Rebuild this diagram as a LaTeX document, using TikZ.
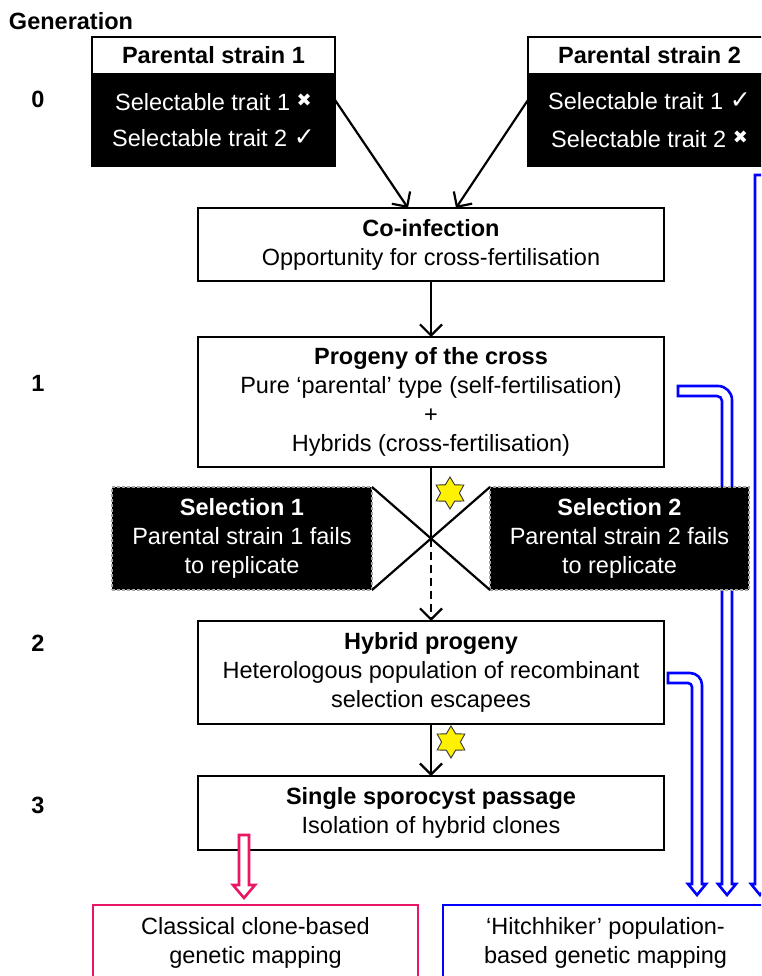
\documentclass[tikz,border=0pt]{standalone}
\usepackage{fontspec}
\setmainfont{Liberation Sans}
\newfontfamily\symfont{DejaVu Sans}
\usetikzlibrary{arrows.meta,shapes.geometric,calc}
\definecolor{hitblue}{RGB}{0,0,255}
\definecolor{clonepink}{RGB}{232,22,100}
\newcommand{\myxmark}{\raisebox{4pt}{\symfont\fontsize{18}{18}\selectfont ✖}}
\newcommand{\mycmark}{\raisebox{1pt}{\symfont\fontsize{25}{25}\selectfont ✓}}
\begin{document}
\begin{tikzpicture}[x=1pt,y=-1pt,
  every node/.style={font=\fontsize{23.5}{29}\selectfont, inner sep=0pt, outer sep=0pt},
  wbox/.style={draw=black, line width=2pt, fill=white, align=center, anchor=north west},
  bbox/.style={draw=black, line width=2pt, fill=black, text=white, align=center, anchor=north west},
  selbox/.style={fill=black, draw=black!35, dash pattern=on 3pt off 2pt, line width=1.2pt, text=white, align=center, anchor=north west},
  conn/.style={draw=black, line width=2.2pt, -{Straight Barb[length=11pt,width=22pt,line width=2.2pt]}},
  plain/.style={draw=black, line width=2.2pt},
  lbl/.style={font=\bfseries\fontsize{23.5}{29}\selectfont, anchor=base},
  bluearrow/.style={draw=hitblue, line width=2.6pt, fill=white, line join=miter},
  pinkarrow/.style={draw=clonepink, line width=2.6pt, fill=white},
  starnode/.style={star, star points=6, star point ratio=1.7, fill=yellow, draw=black!80, line width=0.9pt, minimum size=32pt, inner sep=0pt}
]
\useasboundingbox (0,0) rectangle (761,976);
\clip (0,0) rectangle (761,976);

% generation labels
\node[lbl, anchor=base west] (gen) at (9,30) {Generation};
\node[lbl] (g0) at (38,108) {0};
\node[lbl] (g1) at (38,391) {1};
\node[lbl] (g2) at (38,651) {2};
\node[lbl] (g3) at (38,813) {3};

% blue hollow arrows (drawn first, under boxes)
\draw[bluearrow] (755,175) -- (765,175) -- (765,884) -- (769,884) -- (760,895) -- (751,884) -- (755,884) -- cycle;
\draw[bluearrow] (678,386) [rounded corners=14pt] -- (732,386) [sharp corners] -- (732,884) -- (736,884) -- (727,895) -- (718,884) -- (722,884) [rounded corners=5pt] -- (722,396) [sharp corners] -- (678,396) -- cycle;
\draw[bluearrow] (668,673) [rounded corners=12pt] -- (702,673) [sharp corners] -- (702,884) -- (706,884) -- (697,895) -- (688,884) -- (692,884) [rounded corners=4pt] -- (692,683) [sharp corners] -- (668,683) -- cycle;

% parental strain 1
\node[wbox, minimum width=243pt, minimum height=37pt, text depth=2pt, font=\bfseries\fontsize{23.5}{29}\selectfont] (p1head) at (92,37) {Parental strain 1};
\node[bbox, minimum width=243pt, minimum height=92pt] (p1body) at (92,74) {Selectable trait 1 \myxmark\\[7pt]Selectable trait 2 \mycmark};

% parental strain 2
\node[wbox, minimum width=243pt, minimum height=37pt, text depth=2pt, font=\bfseries\fontsize{23.5}{29}\selectfont] (p2head) at (528,37) {Parental strain 2};
\node[bbox, minimum width=243pt, minimum height=92pt] (p2body) at (528,74) {Selectable trait 1 \mycmark\\[9pt]Selectable trait 2 \myxmark};

% co-infection
\node[wbox, minimum width=466pt, minimum height=73pt] (coinf) at (198,208) {\textbf{Co-infection}\\Opportunity for cross-fertilisation};

% progeny
\node[wbox, minimum width=466pt, minimum height=130pt] (prog) at (198,337) {\textbf{Progeny of the cross}\\Pure ‘parental’ type (self-fertilisation)\\+\\Hybrids (cross-fertilisation)};

% selection boxes
\node[selbox, minimum width=260pt, minimum height=103pt] (sel1) at (112,487) {\textbf{Selection 1}\\Parental strain 1 fails\\to replicate};
\node[selbox, minimum width=259pt, minimum height=103pt] (sel2) at (490,487) {\textbf{Selection 2}\\Parental strain 2 fails\\to replicate};

% hybrid progeny
\node[wbox, minimum width=466pt, minimum height=103pt] (hyb) at (198,621) {\textbf{Hybrid progeny}\\Heterologous population of recombinant\\selection escapees};

% single sporocyst
\node[wbox, minimum width=466pt, minimum height=74pt] (single) at (198,776) {\textbf{Single sporocyst passage}\\Isolation of hybrid clones};

% mapping boxes
\node[draw=clonepink, line width=2.6pt, fill=white, align=center, anchor=north west, minimum width=325pt, minimum height=75pt] (classic) at (93,905) {Classical clone-based\\genetic mapping};
\node[draw=hitblue, line width=2.6pt, fill=white, align=center, anchor=north west, minimum width=325pt, minimum height=75pt] (hitch) at (443,905) {‘Hitchhiker’ population-\\based genetic mapping};

% connectors
\draw[conn] ($(p1body.north east)+(0,26)$) -- ($(coinf.north)+(-23,0)$);
\draw[conn] ($(p2body.north west)+(0,26)$) -- ($(coinf.north)+(25,0)$);
\draw[conn] (coinf.south) -- (prog.north);
\coordinate (cross) at (prog.south |- sel1.east);
\draw[plain] (sel1.north east) -- (sel2.south west);
\draw[plain] (sel1.south east) -- (sel2.north west);
\draw[plain] (prog.south) -- (cross);
\draw[conn, dash pattern=on 8pt off 5pt] (cross) -- (hyb.north);
\draw[conn] (hyb.south) -- (single.north);

% stars
\node[starnode] (star1) at (450,493) {};
\node[starnode] (star2) at (451,742) {};

% pink hollow arrow
\draw[pinkarrow] (239,835) -- (249,835) -- (249,885) -- (255,885) -- (244,898) -- (233,885) -- (239,885) -- cycle;
\end{tikzpicture}
\end{document}
